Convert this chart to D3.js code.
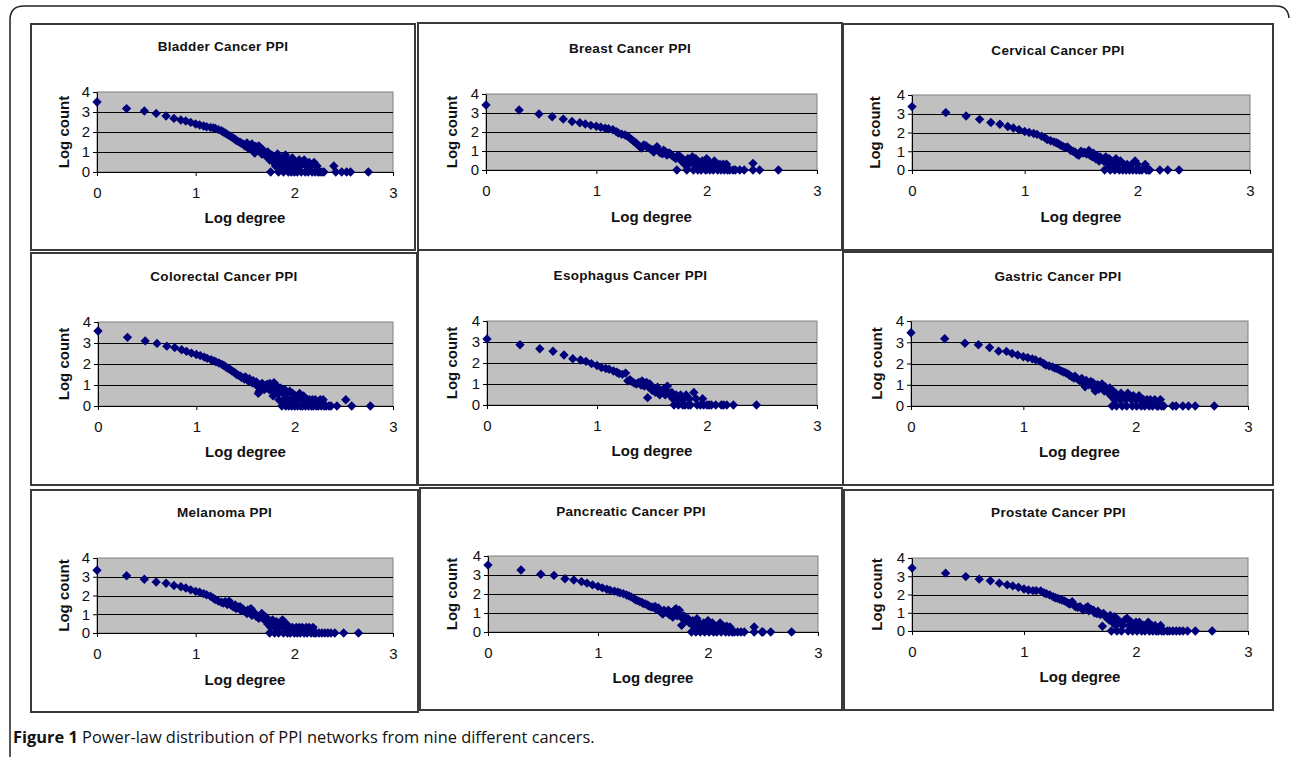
<!DOCTYPE html>
<html>
<head>
<meta charset="utf-8">
<script src="https://cdn.jsdelivr.net/npm/d3@7"></script>
<style>
  body { margin: 0; background: #fff; }
  #chart { width: 1290px; height: 757px; }
</style>
</head>
<body>
<div id="chart"></div>
<script>
// values: [log degree, log count]
const bladder = [[0,3.5],[0.3,3.17],[0.48,3.05],[0.6,2.93],[0.7,2.8],[0.78,2.68],[0.85,2.6],[0.9,2.55],[0.95,2.48],[1,2.4],[1.04,2.35],[1.08,2.3],[1.11,2.26],[1.15,2.23],[1.18,2.2],[1.2,2.18],[1.23,2.12],[1.26,2.06],[1.28,2.0],[1.3,1.95],[1.32,1.88],[1.34,1.82],[1.36,1.76],[1.38,1.7],[1.4,1.64],[1.41,1.58],[1.43,1.53],[1.45,1.48],[1.46,1.45],[1.48,1.4],[1.49,1.36],[1.5,1.3],[1.52,1.45],[1.53,1.2],[1.54,1.32],[1.56,1.15],[1.57,1.4],[1.58,1.11],[1.59,1.0],[1.6,0.95],[1.61,1.28],[1.62,1.2],[1.63,1.15],[1.64,1.3],[1.65,1.08],[1.66,1.2],[1.67,0.9],[1.68,1.11],[1.69,1.0],[1.7,0.85],[1.71,0.95],[1.72,0.78],[1.73,1.0],[1.74,0.9],[1.75,0.6],[1.76,0],[1.77,0.85],[1.78,0.7],[1.79,0.48],[1.8,0.78],[1.81,0.3],[1.82,0.6],[1.83,0.9],[1.84,0],[1.85,0.48],[1.86,0.7],[1.87,0.3],[1.88,0.6],[1.89,0],[1.9,0.48],[1.91,0.85],[1.92,0.3],[1.93,0.6],[1.94,0],[1.95,0.3],[1.96,0.48],[1.97,0],[1.98,0.7],[1.99,0.3],[2.0,0],[2.01,0.48],[2.02,0.3],[2.03,0],[2.05,0.6],[2.06,0.3],[2.07,0],[2.08,0.48],[2.1,0.6],[2.11,0],[2.12,0.3],[2.14,0],[2.15,0.48],[2.17,0.3],[2.18,0],[2.2,0.48],[2.21,0],[2.23,0.3],[2.24,0],[2.26,0],[2.28,0],[2.3,0],[2.4,0.3],[2.42,0],[2.48,0],[2.53,0],[2.57,0],[2.75,0]];

const breast = [[0,3.42],[0.3,3.16],[0.48,2.95],[0.6,2.8],[0.7,2.68],[0.78,2.55],[0.85,2.49],[0.9,2.42],[0.95,2.35],[1,2.3],[1.04,2.25],[1.08,2.2],[1.11,2.17],[1.15,2.12],[1.18,2.02],[1.2,1.95],[1.23,1.88],[1.26,1.84],[1.28,1.78],[1.3,1.7],[1.32,1.6],[1.34,1.5],[1.36,1.42],[1.38,1.3],[1.4,1.2],[1.41,1.15],[1.43,1.32],[1.45,1.28],[1.46,1.2],[1.48,1.15],[1.5,1.08],[1.52,0.95],[1.53,1.11],[1.55,1.23],[1.57,1.0],[1.58,0.9],[1.6,0.85],[1.61,1.04],[1.63,0.95],[1.64,0.78],[1.66,0.9],[1.67,0.85],[1.68,0.78],[1.7,0.7],[1.72,0.6],[1.73,0],[1.74,0.78],[1.76,0.7],[1.77,0.48],[1.78,0.6],[1.8,0.3],[1.81,0.48],[1.82,0],[1.83,0.6],[1.84,0.3],[1.86,0.48],[1.87,0.7],[1.88,0],[1.89,0.3],[1.9,0.6],[1.91,0.48],[1.92,0],[1.93,0.3],[1.95,0],[1.96,0.48],[1.97,0.3],[1.99,0],[2.0,0.6],[2.01,0.48],[2.02,0.3],[2.03,0],[2.05,0.3],[2.06,0],[2.07,0.48],[2.09,0.3],[2.1,0],[2.12,0.3],[2.13,0],[2.15,0.3],[2.16,0],[2.18,0.3],[2.19,0],[2.21,0],[2.24,0],[2.26,0],[2.3,0],[2.34,0],[2.42,0.35],[2.42,0],[2.48,0],[2.65,0]];

const cervical = [[0,3.38],[0.3,3.06],[0.48,2.88],[0.6,2.7],[0.7,2.53],[0.78,2.44],[0.85,2.32],[0.9,2.24],[0.95,2.15],[1,2.05],[1.04,2.0],[1.08,1.95],[1.11,1.9],[1.15,1.8],[1.18,1.72],[1.2,1.62],[1.23,1.56],[1.26,1.5],[1.28,1.45],[1.3,1.4],[1.32,1.32],[1.34,1.26],[1.36,1.2],[1.38,1.23],[1.4,1.1],[1.41,1.04],[1.43,1.0],[1.45,0.95],[1.46,0.85],[1.48,0.78],[1.5,1.0],[1.52,0.9],[1.53,0.95],[1.55,0.85],[1.57,1.04],[1.58,0.78],[1.6,0.7],[1.61,0.9],[1.63,0.6],[1.64,0.78],[1.66,0.48],[1.67,0.7],[1.68,0.6],[1.7,0.48],[1.71,0],[1.72,0.7],[1.74,0.3],[1.75,0.6],[1.76,0],[1.77,0.48],[1.79,0.3],[1.8,0],[1.81,0.6],[1.83,0.3],[1.84,0],[1.85,0.48],[1.87,0],[1.88,0.3],[1.9,0],[1.91,0.3],[1.93,0],[1.95,0.3],[1.96,0],[1.98,0.48],[1.99,0],[2.0,0.3],[2.02,0],[2.04,0],[2.07,0.3],[2.08,0],[2.1,0],[2.11,0],[2.2,0],[2.27,0],[2.37,0]];

const colorectal = [[0,3.57],[0.3,3.27],[0.48,3.1],[0.6,2.98],[0.7,2.85],[0.78,2.78],[0.85,2.68],[0.9,2.6],[0.95,2.52],[1,2.45],[1.04,2.4],[1.08,2.33],[1.11,2.27],[1.15,2.2],[1.18,2.15],[1.2,2.1],[1.23,2.05],[1.26,1.98],[1.28,1.93],[1.3,1.86],[1.32,1.8],[1.34,1.75],[1.36,1.68],[1.38,1.62],[1.4,1.56],[1.41,1.5],[1.43,1.46],[1.45,1.42],[1.46,1.36],[1.48,1.34],[1.49,1.28],[1.5,1.38],[1.52,1.23],[1.53,1.2],[1.54,1.3],[1.56,1.15],[1.57,1.11],[1.58,1.2],[1.6,1.04],[1.61,1.15],[1.62,0.95],[1.63,0.6],[1.64,0.7],[1.65,1.0],[1.66,0.85],[1.67,1.08],[1.68,0.9],[1.69,0.78],[1.7,0.95],[1.71,0.85],[1.72,1.04],[1.73,0.9],[1.74,0.78],[1.75,1.08],[1.76,0.85],[1.77,0.7],[1.78,0.48],[1.79,1.11],[1.8,0.6],[1.81,0.7],[1.82,0.95],[1.83,0.6],[1.84,0.3],[1.85,0.7],[1.86,0.85],[1.87,0],[1.88,0.6],[1.89,0.3],[1.9,0.78],[1.91,0],[1.92,0.6],[1.93,0.3],[1.94,0],[1.95,0.7],[1.96,0.3],[1.97,0],[1.98,0.6],[1.99,0.3],[2.0,0],[2.01,0.48],[2.02,0.3],[2.03,0],[2.04,0.48],[2.05,0.6],[2.06,0],[2.07,0.3],[2.08,0],[2.09,0.48],[2.1,0.3],[2.11,0],[2.13,0.3],[2.14,0],[2.15,0.3],[2.17,0],[2.18,0.3],[2.19,0],[2.21,0.3],[2.22,0],[2.24,0],[2.26,0.3],[2.27,0],[2.29,0.3],[2.3,0],[2.32,0],[2.35,0],[2.37,0],[2.43,0],[2.52,0.3],[2.58,0],[2.77,0]];

const esophagus = [[0,3.14],[0.3,2.87],[0.48,2.68],[0.6,2.56],[0.7,2.38],[0.78,2.2],[0.85,2.14],[0.9,2.08],[0.95,1.97],[1,1.88],[1.04,1.78],[1.08,1.74],[1.11,1.7],[1.15,1.62],[1.18,1.56],[1.2,1.5],[1.23,1.46],[1.26,1.52],[1.28,1.15],[1.3,1.2],[1.32,1.1],[1.34,1.04],[1.36,1.0],[1.38,1.08],[1.4,0.95],[1.41,1.15],[1.43,0.9],[1.45,1.08],[1.46,0.35],[1.47,0.85],[1.48,1.0],[1.5,0.7],[1.52,0.78],[1.53,0.6],[1.55,0.85],[1.57,0.48],[1.58,0.6],[1.6,0.7],[1.61,0.78],[1.62,0.48],[1.64,0.9],[1.65,0.6],[1.66,0.48],[1.68,0.6],[1.69,0.3],[1.7,0],[1.72,0.48],[1.73,0.3],[1.74,0],[1.76,0.48],[1.77,0.3],[1.78,0],[1.79,0.3],[1.8,0],[1.81,0.48],[1.83,0],[1.84,0.3],[1.85,0],[1.88,0.6],[1.9,0.3],[1.91,0],[1.94,0],[1.96,0.3],[1.97,0],[2.0,0],[2.02,0],[2.04,0],[2.08,0],[2.13,0],[2.15,0],[2.18,0],[2.24,0],[2.45,0]];

const gastric = [[0,3.45],[0.3,3.17],[0.48,2.95],[0.6,2.88],[0.7,2.75],[0.78,2.58],[0.85,2.57],[0.9,2.47],[0.95,2.4],[1,2.32],[1.04,2.27],[1.08,2.22],[1.11,2.17],[1.15,2.1],[1.18,2.0],[1.2,1.93],[1.23,1.88],[1.26,1.84],[1.28,1.78],[1.3,1.76],[1.32,1.7],[1.34,1.64],[1.36,1.6],[1.38,1.55],[1.4,1.5],[1.41,1.45],[1.43,1.38],[1.45,1.32],[1.46,1.4],[1.48,1.28],[1.5,1.2],[1.52,1.3],[1.53,1.11],[1.55,0.9],[1.56,1.2],[1.57,1.08],[1.58,1.0],[1.6,1.15],[1.61,0.95],[1.62,1.1],[1.64,0.7],[1.65,0.85],[1.66,1.0],[1.67,0.78],[1.68,0.95],[1.7,1.04],[1.71,0.85],[1.72,0.7],[1.73,0.9],[1.75,0.78],[1.76,0.6],[1.77,0.85],[1.78,0.48],[1.79,0],[1.8,0.7],[1.81,0.3],[1.82,0.6],[1.83,0],[1.84,0.48],[1.86,0.3],[1.87,0.6],[1.88,0],[1.89,0.48],[1.91,0.3],[1.92,0],[1.93,0.6],[1.95,0.48],[1.96,0.3],[1.97,0],[1.98,0.48],[2.0,0.3],[2.01,0],[2.03,0.48],[2.04,0.3],[2.05,0],[2.07,0.3],[2.08,0],[2.1,0.3],[2.12,0],[2.13,0.3],[2.15,0],[2.17,0.3],[2.19,0],[2.2,0],[2.22,0.3],[2.23,0],[2.25,0],[2.33,0],[2.36,0],[2.42,0],[2.47,0],[2.53,0],[2.7,0]];

const melanoma = [[0,3.35],[0.3,3.05],[0.48,2.87],[0.6,2.72],[0.7,2.65],[0.78,2.53],[0.85,2.47],[0.9,2.4],[0.95,2.3],[1,2.22],[1.04,2.17],[1.08,2.1],[1.11,2.04],[1.15,1.96],[1.18,1.85],[1.2,1.78],[1.23,1.7],[1.26,1.64],[1.28,1.6],[1.3,1.67],[1.32,1.52],[1.34,1.7],[1.36,1.48],[1.38,1.4],[1.4,1.5],[1.41,1.3],[1.43,1.38],[1.45,1.4],[1.46,1.2],[1.48,1.28],[1.5,1.15],[1.52,1.04],[1.53,1.23],[1.55,1.11],[1.56,1.3],[1.57,0.95],[1.58,1.15],[1.6,1.04],[1.61,0.9],[1.63,0.85],[1.64,0.78],[1.66,0.95],[1.67,1.04],[1.68,0.78],[1.7,0.7],[1.71,0.85],[1.72,0.6],[1.73,0.48],[1.74,0.7],[1.75,0],[1.76,0.3],[1.77,0.6],[1.78,0.7],[1.79,0.48],[1.8,0],[1.81,0.3],[1.82,0.6],[1.83,0.48],[1.84,0],[1.85,0.3],[1.87,0.48],[1.88,0.7],[1.89,0],[1.9,0.3],[1.92,0.48],[1.93,0],[1.95,0.3],[1.96,0],[1.98,0.3],[2.0,0],[2.02,0.3],[2.03,0],[2.05,0.3],[2.06,0],[2.08,0.3],[2.1,0],[2.12,0.3],[2.13,0],[2.15,0.3],[2.17,0],[2.19,0.3],[2.2,0],[2.22,0],[2.25,0],[2.28,0],[2.31,0],[2.34,0],[2.37,0],[2.41,0],[2.5,0],[2.65,0]];

const pancreatic = [[0,3.52],[0.3,3.26],[0.48,3.04],[0.6,2.98],[0.7,2.8],[0.78,2.74],[0.85,2.65],[0.9,2.57],[0.95,2.48],[1,2.4],[1.04,2.32],[1.08,2.25],[1.11,2.2],[1.15,2.15],[1.18,2.1],[1.2,2.06],[1.23,2.02],[1.26,1.95],[1.28,1.9],[1.3,1.85],[1.32,1.78],[1.34,1.7],[1.36,1.65],[1.38,1.6],[1.4,1.56],[1.41,1.5],[1.43,1.48],[1.45,1.42],[1.46,1.38],[1.48,1.32],[1.5,1.3],[1.52,1.34],[1.53,1.2],[1.55,1.26],[1.56,1.11],[1.58,1.0],[1.59,0.95],[1.6,1.15],[1.62,1.04],[1.64,1.15],[1.65,0.9],[1.66,1.0],[1.68,0.78],[1.69,0.9],[1.7,1.18],[1.71,1.23],[1.72,0.85],[1.73,1.0],[1.74,1.15],[1.76,0.35],[1.77,0.7],[1.78,0.85],[1.79,0.78],[1.8,0.6],[1.82,0.7],[1.83,0.48],[1.85,0],[1.86,0.6],[1.87,0.3],[1.88,0.48],[1.89,0],[1.9,0.7],[1.91,0.3],[1.92,0.48],[1.93,0],[1.94,0.3],[1.96,0.48],[1.97,0],[1.98,0.3],[2.0,0.6],[2.01,0],[2.02,0.3],[2.04,0.48],[2.05,0],[2.06,0.3],[2.08,0],[2.09,0.3],[2.11,0.48],[2.12,0],[2.14,0.3],[2.16,0],[2.17,0.3],[2.19,0],[2.2,0.26],[2.22,0],[2.24,0],[2.27,0],[2.3,0],[2.33,0],[2.42,0.26],[2.42,0],[2.49,0],[2.5,0],[2.57,0],[2.76,0]];

const prostate = [[0,3.45],[0.3,3.17],[0.48,2.98],[0.6,2.84],[0.7,2.75],[0.78,2.62],[0.85,2.53],[0.9,2.47],[0.95,2.4],[1,2.3],[1.04,2.25],[1.08,2.21],[1.11,2.21],[1.15,2.2],[1.18,2.08],[1.2,2.04],[1.23,1.97],[1.26,1.88],[1.28,1.82],[1.3,1.79],[1.32,1.74],[1.34,1.7],[1.36,1.65],[1.38,1.58],[1.4,1.51],[1.41,1.48],[1.43,1.6],[1.45,1.4],[1.46,1.33],[1.48,1.3],[1.5,1.33],[1.52,1.2],[1.53,1.15],[1.55,1.26],[1.57,1.33],[1.58,1.11],[1.6,1.18],[1.62,1.14],[1.63,1.0],[1.65,0.96],[1.66,1.08],[1.68,0.9],[1.7,0.26],[1.71,0.96],[1.72,0.85],[1.73,0.78],[1.75,0.77],[1.76,0.6],[1.77,0.85],[1.78,0],[1.79,0.48],[1.8,0.7],[1.81,0.78],[1.82,0.3],[1.83,0],[1.84,0.6],[1.86,0.48],[1.87,0],[1.88,0.3],[1.9,0.6],[1.92,0.7],[1.93,0],[1.94,0.3],[1.96,0.48],[1.97,0],[1.98,0.3],[2.0,0.48],[2.01,0],[2.03,0.48],[2.04,0.3],[2.05,0],[2.07,0.3],[2.08,0],[2.1,0.3],[2.11,0.48],[2.12,0],[2.14,0.3],[2.15,0],[2.17,0.3],[2.18,0],[2.2,0],[2.22,0.3],[2.23,0],[2.25,0],[2.28,0],[2.3,0],[2.33,0],[2.36,0],[2.39,0],[2.42,0],[2.46,0],[2.53,0],[2.68,0]];

const titles = ['Bladder Cancer PPI', 'Breast Cancer PPI', 'Cervical Cancer PPI',
  'Colorectal Cancer PPI', 'Esophagus Cancer PPI', 'Gastric Cancer PPI',
  'Melanoma PPI', 'Pancreatic Cancer PPI', 'Prostate Cancer PPI'];
const series = [bladder, breast, cervical, colorectal, esophagus, gastric, melanoma, pancreatic, prostate];
const xTicks = [0, 1, 2, 3];
const yTicks = [0, 1, 2, 3, 4];
const gridValues = [1, 2, 3];
const xLabel = 'Log degree';
const yLabel = 'Log count';

// layout: panel frame, plot rect [x0, yTop, x3, yBottom], text baselines
const layout = [
  { box: [31, 24, 415, 250], plot: [97, 92, 393, 172], tY: 51, xlY: 223, ylX: 69 },
  { box: [418, 23, 842, 250], plot: [486, 94, 817, 170], tY: 53, xlY: 222, ylX: 457 },
  { box: [843, 24, 1273, 250], plot: [912, 95, 1250, 170], tY: 55, xlY: 222, ylX: 880 },
  { box: [31, 253, 417, 485], plot: [98, 322, 393, 406], tY: 281, xlY: 457, ylX: 69 },
  { box: [418, 250, 843, 485], plot: [487, 321, 817, 405], tY: 280, xlY: 456, ylX: 457 },
  { box: [843, 252, 1273, 485], plot: [911, 321, 1248, 406], tY: 281, xlY: 457, ylX: 882 },
  { box: [31, 490, 418, 712], plot: [97, 558, 393, 633], tY: 517, xlY: 685, ylX: 69 },
  { box: [420, 488, 842, 710], plot: [488, 556, 818, 632], tY: 516, xlY: 683, ylX: 457 },
  { box: [844, 490, 1273, 710], plot: [912, 558, 1248, 631], tY: 517, xlY: 682, ylX: 882 }
];

const font = 'Arial, "Liberation Sans", sans-serif';
const svg = d3
  .select('#chart')
  .append('svg')
  .attr('width', 1290)
  .attr('height', 757);

svg.append('rect').attr('width', 1290).attr('height', 757).attr('fill', '#fff');

// outer frame of the figure
svg
  .append('path')
  .attr('d', 'M10,757 V20 Q10,6 24,6 H1276 Q1288,6 1289,18')
  .attr('fill', 'none')
  .attr('stroke', '#222')
  .attr('stroke-width', 1.5);

const diamond = d3.symbol().type(d3.symbolSquare).size(44);

series.forEach((data, i) => {
  const L = layout[i];
  const g = svg.append('g');

  g.append('rect')
    .attr('x', L.box[0])
    .attr('y', L.box[1])
    .attr('width', L.box[2] - L.box[0])
    .attr('height', L.box[3] - L.box[1])
    .attr('fill', '#fff')
    .attr('stroke', '#3a3a3a')
    .attr('stroke-width', 2);

  const x = d3.scaleLinear().domain([0, 3]).range([L.plot[0], L.plot[2]]);
  const y = d3.scaleLinear().domain([0, 4]).range([L.plot[3], L.plot[1]]);

  g.append('rect')
    .attr('x', x(0))
    .attr('y', y(4))
    .attr('width', x(3) - x(0))
    .attr('height', y(0) - y(4))
    .attr('fill', '#c0c0c0')
    .attr('stroke', '#808080')
    .attr('stroke-width', 1);

  g.selectAll('line.grid')
    .data(gridValues)
    .enter()
    .append('line')
    .attr('class', 'grid')
    .attr('x1', x(0))
    .attr('x2', x(3))
    .attr('y1', d => Math.round(y(d)) + 0.5)
    .attr('y2', d => Math.round(y(d)) + 0.5)
    .attr('stroke', '#000')
    .attr('stroke-width', 1);

  const xAxis = g
    .append('g')
    .attr('transform', 'translate(0,' + y(0) + ')')
    .call(
      d3.axisBottom(x)
        .tickValues(xTicks)
        .tickSize(4)
        .tickSizeOuter(0)
        .tickPadding(11)
        .tickFormat(d3.format('d'))
    );

  const yAxis = g
    .append('g')
    .attr('transform', 'translate(' + x(0) + ',0)')
    .call(
      d3.axisLeft(y)
        .tickValues(yTicks)
        .tickSize(4)
        .tickSizeOuter(0)
        .tickPadding(3)
        .tickFormat(d3.format('d'))
    );

  [xAxis, yAxis].forEach(a => {
    a.selectAll('text')
      .style('font-family', font)
      .style('font-size', '15px')
      .attr('fill', '#111');
    a.selectAll('line').attr('stroke', '#000');
    a.select('.domain').attr('stroke', '#000');
  });

  g.append('g')
    .selectAll('path')
    .data(data)
    .enter()
    .append('path')
    .attr('d', diamond)
    .attr('transform', d => 'translate(' + x(d[0]) + ',' + y(d[1]) + ') rotate(45)')
    .attr('fill', '#00007a');

  g.append('text')
    .text(titles[i])
    .attr('x', (L.box[0] + L.box[2]) / 2)
    .attr('y', L.tY)
    .attr('text-anchor', 'middle')
    .style('font-family', font)
    .style('font-size', '13.5px')
    .style('font-weight', 'bold')
    .style('letter-spacing', '0.3px')
    .attr('fill', '#111');

  g.append('text')
    .text(xLabel)
    .attr('x', (x(0) + x(3)) / 2)
    .attr('y', L.xlY)
    .attr('text-anchor', 'middle')
    .style('font-family', font)
    .style('font-size', '15px')
    .style('font-weight', 'bold')
    .attr('fill', '#111');

  g.append('text')
    .text(yLabel)
    .attr('transform', 'translate(' + L.ylX + ',' + (y(0) + y(4)) / 2 + ') rotate(-90)')
    .attr('text-anchor', 'middle')
    .style('font-family', font)
    .style('font-size', '15px')
    .style('font-weight', 'bold')
    .attr('fill', '#111');
});

const caption = svg
  .append('text')
  .attr('x', 13)
  .attr('y', 743)
  .style('font-family', '"Open Sans", sans-serif')
  .style('font-size', '16.4px')
  .attr('fill', '#111');
caption.append('tspan').text('Figure 1').style('font-weight', 'bold');
caption.append('tspan').text(' Power-law distribution of PPI networks from nine different cancers.');
</script>
</body>
</html>
